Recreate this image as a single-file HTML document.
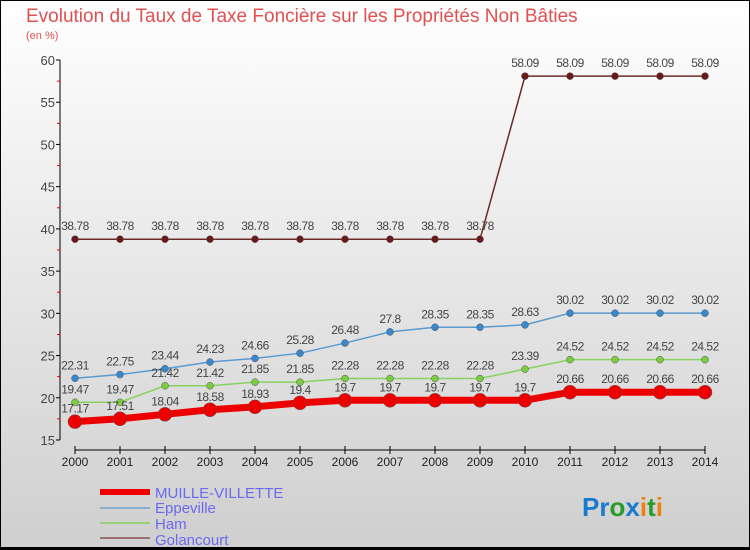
<!DOCTYPE html>
<html><head><meta charset="utf-8"><style>
body{margin:0}
#c{width:750px;height:550px;position:relative;background:linear-gradient(#ffffff,#cfcfcf);font-family:"Liberation Sans",sans-serif;overflow:hidden}
</style></head><body>
<div id="c">
<svg id="s" width="750" height="550" style="position:absolute;left:0;top:0">
<rect x="0.5" y="0.5" width="749" height="548" fill="none" stroke="#000"/>
<line x1="0" y1="548.5" x2="750" y2="548.5" stroke="#000" stroke-width="3"/>
<text x="26" y="22" font-size="19" fill="#e05050">Evolution du Taux de Taxe Foncière sur les Propriétés Non Bâties</text>
<text x="26" y="39" font-size="11" fill="#e05050">(en %)</text>
<g id="axes"></g><g id="series"></g>
<g id="legend" font-size="15" fill="#6a6af0">
<line x1="100" y1="492" x2="150" y2="492" stroke="#e00" stroke-width="6"/>
<text x="155" y="498">MUILLE-VILLETTE</text>
<line x1="100" y1="508" x2="150" y2="508" stroke="#8ab0d0" stroke-width="2"/>
<text x="155" y="513">Eppeville</text>
<line x1="100" y1="523" x2="150" y2="523" stroke="#9ad07a" stroke-width="2"/>
<text x="155" y="529">Ham</text>
<line x1="100" y1="538" x2="150" y2="538" stroke="#987070" stroke-width="2"/>
<text x="155" y="545">Golancourt</text>
</g>
<text x="582" y="516" font-size="26" font-weight="bold"><tspan fill="#1a7ad0">Pr</tspan><tspan fill="#2a9a2a">o</tspan><tspan fill="#1a7ad0">x</tspan><tspan fill="#f08010">i</tspan><tspan fill="#2a9a2a">t</tspan><tspan fill="#f08010">i</tspan></text>
</svg>
</div>
<script>
const years=[2000,2001,2002,2003,2004,2005,2006,2007,2008,2009,2010,2011,2012,2013,2014];
const yTicks=[15,20,25,30,35,40,45,50,55,60];
const muille=[17.17,17.51,18.04,18.58,18.93,19.4,19.7,19.7,19.7,19.7,19.7,20.66,20.66,20.66,20.66];
const eppeville=[22.31,22.75,23.44,24.23,24.66,25.28,26.48,27.8,28.35,28.35,28.63,30.02,30.02,30.02,30.02];
const ham=[19.47,19.47,21.42,21.42,21.85,21.85,22.28,22.28,22.28,22.28,23.39,24.52,24.52,24.52,24.52];
const golancourt=[38.78,38.78,38.78,38.78,38.78,38.78,38.78,38.78,38.78,38.78,58.09,58.09,58.09,58.09,58.09];
const NS='http://www.w3.org/2000/svg';
const X=i=>75+i*45;
const Y=v=>440-(v-15)*(380/45);
function mk(t,a,p){const e=document.createElementNS(NS,t);for(const k in a)e.setAttribute(k,a[k]);p.appendChild(e);return e;}
const ax=document.getElementById('axes');
let l=mk('line',{x1:60,y1:60,x2:60,y2:440,stroke:'#000'},ax);


l=mk('line',{x1:75,y1:450,x2:705,y2:450,stroke:'#000'},ax);


yTicks.forEach(v=>{
 mk('line',{x1:56,x2:60,y1:Y(v),y2:Y(v),stroke:'#000'},ax);
 if(v<60)mk('line',{x1:57,x2:60,y1:Y(v+2.5),y2:Y(v+2.5),stroke:'#e00'},ax);
 const t=mk('text',{x:55,y:Y(v)+5,'font-size':13,'text-anchor':'end',fill:'#444'},ax);t.textContent=v;
 
 
});
years.forEach((y,i)=>{
 mk('line',{x1:X(i),x2:X(i),y1:446,y2:454,stroke:'#000'},ax);
 const t=mk('text',{x:X(i),y:466,'font-size':12,'text-anchor':'middle',fill:'#222'},ax);t.textContent=y;
 
 
});
const sg=document.getElementById('series');
function series(data,name,color,w,r,dot){
 const g=mk('g',{},sg);
 
 
 const pl=mk('polyline',{points:data.map((v,i)=>X(i)+','+Y(v)).join(' '),fill:'none',stroke:color,'stroke-width':w},g);
 
 
 data.forEach((v,i)=>{
  const c=mk('circle',{cx:X(i),cy:Y(v),r:r,fill:dot,stroke:'#555','stroke-width':0.5},g);
  
  
  const t=mk('text',{x:X(i),y:Y(v)-9,'font-size':12,'text-anchor':'middle',fill:'#444','letter-spacing':'-0.5'},g);
  t.textContent=v;
  
  
 });
}
series(golancourt,'golancourt','#6a2a2a',1.5,3.5,'#6a1a1a');
series(eppeville,'eppeville','#5a9ad0',1.5,3.5,'#3a88cc');
series(ham,'ham','#8ad060',1.5,3.5,'#7acc40');
series(muille,'muille-villette','#e00',7,7,'#e00');
</script>
</body></html>
